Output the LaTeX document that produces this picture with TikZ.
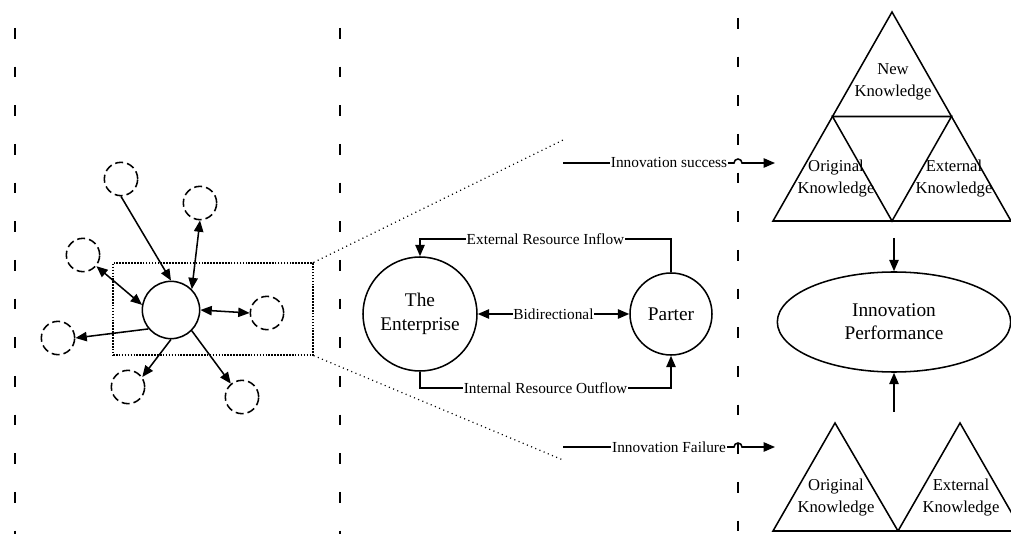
\documentclass[tikz,border=0pt]{standalone}
\usepackage{fontspec}
\setmainfont{Liberation Serif}
\usetikzlibrary{arrows.meta,shapes.geometric,positioning}

\begin{document}
\begin{tikzpicture}[>={Triangle[length=8.5pt,width=7pt]},line width=1.15pt,
  x=0.75pt,y=-0.75pt,
  hub node/.style={circle,draw,minimum size=43pt,inner sep=0pt},
  sat node/.style={circle,draw,dash pattern=on 6pt off 3pt,
    minimum size=25pt,inner sep=0pt},
  big node/.style={circle,draw,align=center,inner sep=0pt,
    font=\fontsize{14.5}{18}\selectfont},
  flow label/.style={fill=white,inner sep=0.6pt,
    font=\fontsize{11.5}{13}\selectfont},
  know label/.style={align=center,inner sep=0pt,
    font=\fontsize{12.5}{16.5}\selectfont},
  phase line/.style={line width=1.2pt,dash pattern=on 8pt off 21pt},
  zoom box/.style={draw,line width=0.9pt,dash pattern=on 1.2pt off 1pt,
    minimum width=150pt,minimum height=69pt}]

  \useasboundingbox (0,0) rectangle (1011,534);

  % phase separators
  \draw[phase line] (15,28) -- (15,534);
  \draw[phase line] (340,28) -- (340,534);
  \draw[phase line] (738,18) -- (738,534);

  % the enterprise inside its network
  \node[hub node] (hub) at (171,310) {};
  \node[sat node] (s1) at (121,179) {};
  \node[sat node] (s2) at (200,203) {};
  \node[sat node] (s3) at (83,255) {};
  \node[sat node] (s4) at (267,313) {};
  \node[sat node] (s5) at (58,338) {};
  \node[sat node] (s6) at (128,387) {};
  \node[sat node] (s7) at (242,397) {};

  \path
    (s1.south) edge[->] (hub.north)
    (hub.45) edge[<->] (s2.south)
    (hub.170) edge[<->] (s3.-40)
    (hub.east) edge[<->] (s4.west)
    (hub.220) edge[->] (s5.east)
    (hub.south) edge[->] (s6.35)
    (hub.-45) edge[->] (s7.130);

  % zoomed part
  \node[zoom box] (zb) at (213,309) {};
  \coordinate (zs) at (563,140);
  \coordinate (zf) at (563,460);
  \draw[line width=0.9pt,dash pattern=on 0.8pt off 2.6pt]
    (zb.north east) -- (zs) (zb.south east) -- (zf);

  % enterprise and partner
  \node[big node,minimum size=85.5pt] (ent) at (420,314) {The\\Enterprise};
  \node[big node,minimum size=61.5pt] (par) at (671,314) {Parter};

  \draw[->] (par.north) -- (par.north |- 0,239)
    -- node[flow label] {External Resource Inflow} (ent.north |- 0,239)
    -- (ent.north);
  \draw[<->] (ent) -- node[flow label] {Bidirectional} (par);
  \draw[->] (ent.south) -- (ent.south |- 0,388)
    -- node[flow label] {Internal Resource Outflow} (par.south |- 0,388)
    -- (par.south);

  % outcomes
  \coordinate (sa) at (563,163);
  \coordinate (sh) at (734,163);
  \coordinate (sb) at (775,163);
  \coordinate (fa) at (563,447);
  \coordinate (fh) at (734,447);
  \coordinate (fb) at (775,447);
  \draw[->] (sa) -- node[flow label,pos=0.62] {Innovation success} (sh)
    arc[start angle=180,end angle=0,radius=3pt] -- (sb);
  \draw[->] (fa) -- node[flow label,pos=0.62] {Innovation Failure} (fh)
    arc[start angle=180,end angle=0,radius=3pt] -- (fb);

  % knowledge after success
  \coordinate (ta) at (892,12);
  \coordinate (tl) at (773,221);
  \coordinate (tr) at (1011,221);
  \coordinate (ml) at (832.5,116.5);
  \coordinate (mr) at (951.5,116.5);
  \coordinate (mb) at (892,221);
  \draw[line join=miter] (ta) -- (tl) -- (tr) -- cycle;
  \draw (ml) -- (mr) -- (mb) -- cycle;
  \node[know label] (new) at (893,82) {New\\Knowledge};
  \node[know label] (org1) at (836,179) {Original\\Knowledge};
  \node[know label] (ext1) at (954,179) {External\\Knowledge};

  % performance
  \node[ellipse,draw,minimum width=175pt,minimum height=75pt,inner sep=0pt,
    align=center,font=\fontsize{14.5}{17}\selectfont] (perf) at (894,322)
    {Innovation\\Performance};
  \coordinate (pa) at (894,238);
  \coordinate (pb) at (894,412);
  \draw[->] (pa) -- (perf.north);
  \draw[->] (pb) -- (perf.south);

  % knowledge after failure
  \begin{scope}
    \clip (0,0) rectangle (1011,534);
    \draw (773,531) -- (835,423) -- (898,531) -- cycle;
    \draw (898,531) -- (960,423) -- (1022,531) -- cycle;
  \end{scope}
  \node[know label] (org2) at (836,498) {Original\\Knowledge};
  \node[know label] (ext2) at (961,498) {External\\Knowledge};
\end{tikzpicture}
\end{document}
